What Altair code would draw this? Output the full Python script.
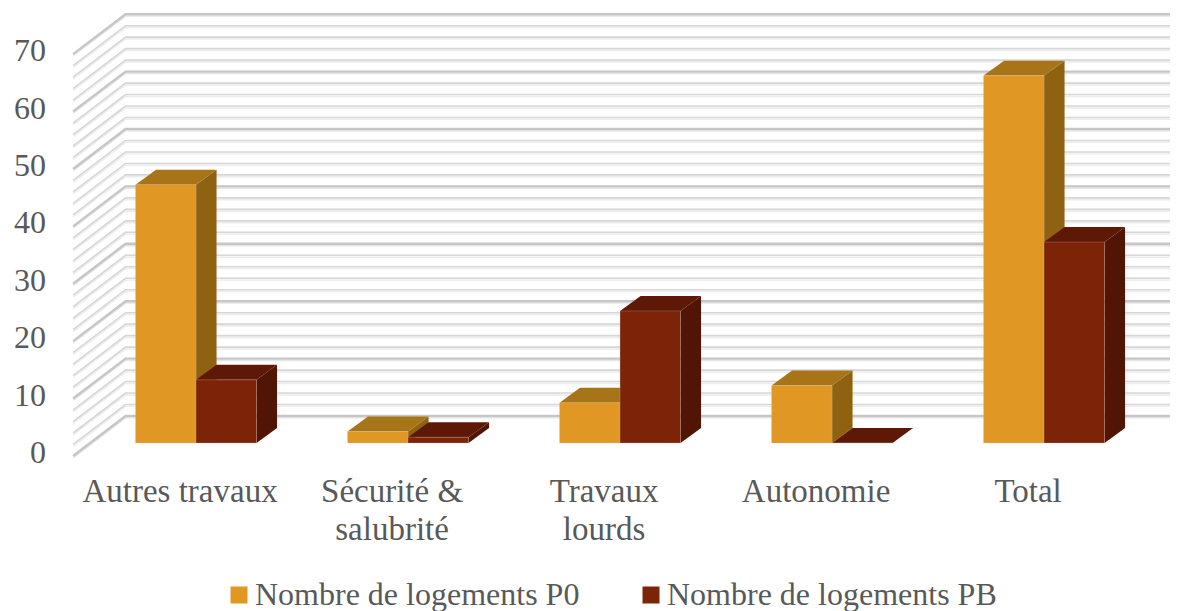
import altair as alt
import pandas as pd

categories = ["Autres travaux", "Sécurité &\nsalubrité", "Travaux\nlourds", "Autonomie", "Total"]
series_names = ["Nombre de logements P0", "Nombre de logements PB"]
p0_values = [45, 2, 7, 10, 64]
pb_values = [11, 1, 23, 0, 35]
front_colors = ["#E09724", "#7D2308"]
side_colors = ["#8F6212", "#511505"]
top_colors = ["#A87418", "#5E1906"]
grid_values = list(range(0, 72, 2))
tick_values = [0, 10, 20, 30, 40, 50, 60, 70]

W, H = 1162, 603
FONT = "Liberation Serif"
TXT = "#595959"

# Scales: x is in category units, y in value units
X_MAX = 4.594
x_scale = alt.Scale(domain=[-0.887, X_MAX], nice=False, zero=False)
y_scale = alt.Scale(domain=[-29.27, 75.78], nice=False, zero=False)
BAR_W = 0.2854
DEPTH_X = 0.0967
DEPTH_Y = 2.61
WALL_FRONT_X = -0.58
WALL_BACK_X = -0.3325
WALL_FRONT_Y = -2.26
WALL_BACK_Y = 4.7

def X(f):
    return alt.X(f, type="quantitative", scale=x_scale, axis=None)
def Y(f):
    return alt.Y(f, type="quantitative", scale=y_scale, axis=None)
def X2(f):
    return alt.X2(f)
def Y2(f):
    return alt.Y2(f)

fronts, sides, tops = [], [], []
for s, (name, vals) in enumerate(zip(series_names, [p0_values, pb_values])):
    for i, v in enumerate(vals):
        x0 = i + (s - 1) * BAR_W
        x1 = x0 + BAR_W
        fronts.append(dict(series=name, x0=x0, x1=x1, y0=0, y1=v))
        bid = f"{s}-{i}"
        sides.append(dict(id=bid, col=side_colors[s], x=x1, y=v, y2=0))
        sides.append(dict(id=bid, col=side_colors[s], x=x1 + DEPTH_X, y=v + DEPTH_Y, y2=DEPTH_Y))
        tops.append(dict(id=bid, col=top_colors[s], y=v, x=x0, x2=x1))
        tops.append(dict(id=bid, col=top_colors[s], y=v + DEPTH_Y, x=x0 + DEPTH_X, x2=x1 + DEPTH_X))

grid = []
for v in grid_values:
    major = v % 10 == 0
    for shade, off in (("light", -0.33), ("main", 0)):
        k = f"{shade}{v}"
        for px, py in ((WALL_FRONT_X, WALL_FRONT_Y), (WALL_BACK_X, WALL_BACK_Y), (X_MAX, WALL_BACK_Y)):
            grid.append(dict(id=k, x=px, y=v + py + off, kind=shade + ("M" if major else "m")))
grid = pd.DataFrame(grid)

def grid_layer(kind, color, width):
    return alt.Chart(grid[grid.kind == kind]).mark_line(color=color, strokeWidth=width, strokeJoin="miter").encode(
        x=X("x"), y=Y("y"), detail="id:N")

layers = [
    grid_layer("lightm", "#ececec", 1.4),
    grid_layer("lightM", "#e6e6e6", 1.4),
    grid_layer("mainm", "#d6d6d6", 1.6),
    grid_layer("mainM", "#c6c6c6", 2.4),
]

layers.append(alt.Chart(pd.DataFrame(sides)).mark_area(orient="vertical").encode(
    x=X("x"), y=Y("y"), y2=Y2("y2"), detail="id:N", color=alt.Color("col:N", scale=None)))
layers.append(alt.Chart(pd.DataFrame(tops)).mark_area(orient="horizontal").encode(
    y=Y("y"), x=X("x"), x2=X2("x2"), detail="id:N", color=alt.Color("col:N", scale=None)))
layers.append(alt.Chart(pd.DataFrame(fronts)).mark_rect(stroke="#cfc7bd", strokeWidth=0.5, strokeOpacity=0.5).encode(
    x=X("x0"), x2=X2("x1"), y=Y("y0"), y2=Y2("y1"),
    color=alt.Color("series:N",
        scale=alt.Scale(domain=series_names, range=front_colors),
        legend=alt.Legend(orient="none", legendX=215, legendY=571, direction="horizontal", title=None,
            symbolType="square", symbolSize=289, symbolStrokeWidth=0, labelFont=FONT, labelFontSize=32,
            labelColor=TXT, labelOffset=0, columns=2, columnPadding=55, padding=0,
            labelLimit=500))))

ticks = pd.DataFrame({"v": tick_values, "x": [-0.708] * len(tick_values), "t": [str(v) for v in tick_values]})
layers.append(alt.Chart(ticks).mark_text(align="right", baseline="middle", font=FONT, fontSize=32, color=TXT, dy=10).encode(
    x=X("x"), y=Y("v"), text="t:N"))

cats = pd.DataFrame({"x": [i - 0.0755 for i in range(5)], "y": [-8.5] * 5,
                     "t": [c.split("\n") for c in categories]})
layers.append(alt.Chart(cats).mark_text(align="center", baseline="middle", font=FONT, fontSize=33, color=TXT, lineHeight=38).encode(
    x=X("x"), y=Y("y"), text="t"))

chart = alt.layer(*layers).properties(
    width=W, height=H, padding=0, autosize=alt.AutoSizeParams(type="none"), background="white"
).configure_view(stroke=None)

chart.save("out.html", embed_options={"renderer": "svg", "actions": False})
